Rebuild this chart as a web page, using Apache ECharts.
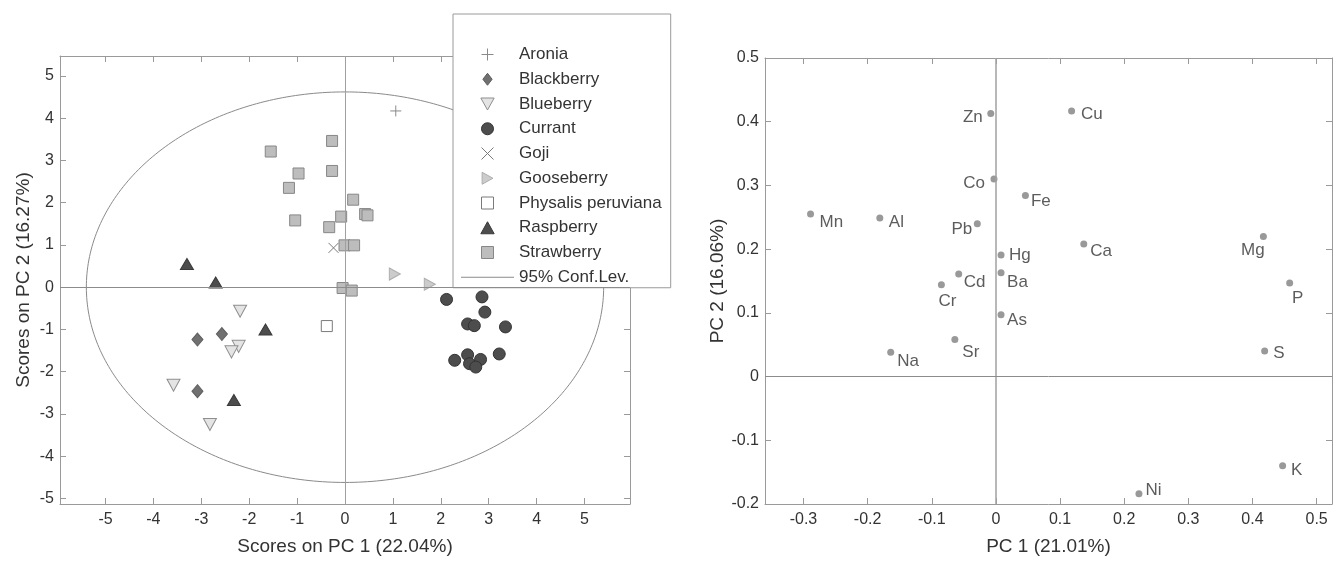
<!DOCTYPE html>
<html><head><meta charset="utf-8">
<script src="https://cdn.jsdelivr.net/npm/echarts@6/dist/echarts.min.js"></script>
<style>html,body{margin:0;padding:0;background:#fff}#c{width:1333px;height:561px}</style>
</head><body><div id="c"></div>
<script>
// ---------------- data: scores plot ----------------
const scoreXTicks = [-5, -4, -3, -2, -1, 0, 1, 2, 3, 4, 5];
const scoreYTicks = [-5, -4, -3, -2, -1, 0, 1, 2, 3, 4, 5];
const aronia = [[1.06, 4.17]];
const blackberry = [[-3.08, -1.24], [-2.57, -1.11], [-3.08, -2.46]];
const blueberry = [[-2.19, -0.57], [-2.22, -1.40], [-2.37, -1.53], [-3.58, -2.32], [-2.82, -3.25]];
const currant = [[2.12, -0.29], [2.86, -0.23], [2.92, -0.59], [2.56, -0.87], [2.70, -0.91], [3.35, -0.94],
                 [3.22, -1.58], [2.56, -1.60], [2.29, -1.73], [2.83, -1.71], [2.60, -1.81], [2.73, -1.89]];
const goji = [[-0.24, 0.93]];
const gooseberry = [[1.04, 0.31], [1.77, 0.07]];
const physalis = [[-0.38, -0.92]];
const raspberry = [[-3.30, 0.55], [-2.70, 0.11], [-1.66, -1.00], [-2.32, -2.67]];
const strawberry = [[-0.27, 3.46], [-1.55, 3.21], [-0.97, 2.69], [-0.27, 2.75], [-1.17, 2.35], [0.17, 2.07],
                    [-1.04, 1.58], [-0.08, 1.67], [-0.33, 1.42], [0.42, 1.73], [0.47, 1.70], [-0.01, 0.99],
                    [0.19, 0.99], [-0.05, -0.02], [0.14, -0.08]];
const confCenter = [0, 0];
const confRadii = [5.40, 4.62];

// ---------------- data: loadings plot ----------------
const loadXTicks = [-0.3, -0.2, -0.1, 0, 0.1, 0.2, 0.3, 0.4, 0.5];
const loadYTicks = [-0.2, -0.1, 0, 0.1, 0.2, 0.3, 0.4, 0.5];
const loadNames = ['Zn', 'Cu', 'Co', 'Fe', 'Mn', 'Al', 'Pb', 'Hg', 'Ca', 'Mg', 'Ba', 'Cd', 'Cr', 'P', 'As', 'Na', 'Sr', 'S', 'K', 'Ni'];
const loadPC1 = [-0.008, 0.118, -0.003, 0.046, -0.289, -0.181, -0.029, 0.008, 0.137, 0.417, 0.008, -0.058, -0.085, 0.458, 0.008, -0.164, -0.064, 0.419, 0.447, 0.223];
const loadPC2 = [0.413, 0.417, 0.310, 0.284, 0.255, 0.249, 0.240, 0.191, 0.208, 0.220, 0.163, 0.161, 0.144, 0.147, 0.097, 0.038, 0.058, 0.040, -0.140, -0.184];

// ---------------- styling ----------------
const FONT = 'Liberation Sans, Arial, Helvetica, sans-serif';
const AX = '#9a9a9a';
const TXT = '#333333';
// label placement: [position, distance, dx, dy]
const labelPlace = {
  Zn: ['left', 4.5, 0, 4], Co: ['left', 5.5, 0, 4], Mn: ['right', 5.5, 0, 8], Al: ['right', 5.5, 0, 4],
  Pb: ['left', 1.5, 0, 6], Cd: ['right', 1.5, 0, 8], Cr: ['bottom', 4, 6, 0], Cu: ['right', 6, 0, 3],
  Fe: ['right', 2, 0, 6], Ca: ['right', 3, 0, 7], Mg: ['bottom', 2, -10.5, 0], Hg: ['right', 4.5, 0, 0],
  Ba: ['right', 2.5, 0, 10], P: ['bottom', 3, 8, 0], As: ['right', 2.5, 0, 6], S: ['right', 5, 0, 2],
  K: ['right', 5, 0, 5], Ni: ['right', 3, 0, -3], Na: ['right', 3, 0, 9], Sr: ['right', 4, 0, 13]
};

const SYM = {
  square: 'path://M0,0L10,0L10,10L0,10Z',
  diamond: 'path://M5,0L10,6.5L5,13L0,6.5Z',
  triUp: 'path://M5,0L10,9L0,9Z',
  triDown: 'path://M0,0L10,0L5,9Z',
  triRight: 'path://M0,0L9,5L0,10Z',
  plus: 'path://M5,0L5,10M0,5L10,5',
  cross: 'path://M0,0L10,10M10,0L0,10',
  hline: 'path://M0,0L50,0L50,1L0,1Z'
};

function xAxes(grid, min, max, ticks, name) {
  return [
    { type: 'value', gridIndex: grid, position: 'bottom', min: min, max: max,
      axisLine: { show: true, onZero: false, lineStyle: { color: AX, width: 1 } },
      axisTick: { show: true, inside: true, length: 6, customValues: ticks, lineStyle: { color: AX } },
      axisLabel: { show: true, customValues: ticks, margin: 8, fontSize: 16, color: TXT, fontFamily: FONT },
      splitLine: { show: false },
      name: name, nameLocation: 'middle', nameGap: 33,
      nameTextStyle: { fontSize: 19, color: TXT, fontFamily: FONT } },
    { type: 'value', gridIndex: grid, position: 'top', min: min, max: max,
      axisLine: { show: true, onZero: false, lineStyle: { color: AX, width: 1 } },
      axisTick: { show: true, inside: true, length: 6, customValues: ticks, lineStyle: { color: AX } },
      axisLabel: { show: false }, splitLine: { show: false } }
  ];
}
function yAxes(grid, min, max, ticks, name, gap) {
  return [
    { type: 'value', gridIndex: grid, position: 'left', min: min, max: max,
      axisLine: { show: true, onZero: false, lineStyle: { color: AX, width: 1 } },
      axisTick: { show: true, inside: true, length: 6, customValues: ticks, lineStyle: { color: AX } },
      axisLabel: { show: true, customValues: ticks, margin: 6, fontSize: 16, color: TXT, fontFamily: FONT },
      splitLine: { show: false },
      name: name, nameLocation: 'middle', nameGap: gap,
      nameTextStyle: { fontSize: 19, color: TXT, fontFamily: FONT } },
    { type: 'value', gridIndex: grid, position: 'right', min: min, max: max,
      axisLine: { show: true, onZero: false, lineStyle: { color: AX, width: 1 } },
      axisTick: { show: true, inside: true, length: 6, customValues: ticks, lineStyle: { color: AX } },
      axisLabel: { show: false }, splitLine: { show: false } }
  ];
}

function scoreSeries(name, data, symbol, size, fill, border, bw) {
  return { type: 'scatter', name: name, xAxisIndex: 0, yAxisIndex: 0, data: data,
    symbol: symbol, symbolSize: size, z: 3,
    itemStyle: { color: fill, borderColor: border, borderWidth: bw, opacity: 1 } };
}

// ellipse outline from its centre and semi-axes
const ellipse = [];
for (let i = 0; i <= 360; i++) {
  const t = i * Math.PI / 180;
  ellipse.push([confCenter[0] + confRadii[0] * Math.cos(t), confCenter[1] + confRadii[1] * Math.sin(t)]);
}

const loadData = loadNames.map(function (n, i) {
  const p = labelPlace[n];
  return { name: n, value: [loadPC1[i], loadPC2[i]],
    label: { show: true, position: p[0], distance: p[1], offset: [p[2], p[3]] } };
});

const zeroLines = function (w1, w2) {
  return { silent: true, symbol: ['none', 'none'], animation: false, label: { show: false },
    data: [{ xAxis: 0, lineStyle: { color: '#a0a0a0', width: w1, type: 'solid' } },
           { yAxis: 0, lineStyle: { color: '#8c8c8c', width: w2, type: 'solid' } }] };
};

const legendNames = ['Aronia', 'Blackberry', 'Blueberry', 'Currant', 'Goji', 'Gooseberry',
                     'Physalis peruviana', 'Raspberry', 'Strawberry'];

const chart = echarts.init(document.getElementById('c'), null, { renderer: 'canvas' });
chart.setOption({
  animation: false,
  backgroundColor: '#ffffff',
  textStyle: { fontFamily: FONT },
  grid: [
    { left: 60, top: 56, width: 570, height: 451, containLabel: false },
    { left: 765, top: 58, width: 567, height: 449, containLabel: false }
  ],
  xAxis: xAxes(0, -5.95, 5.95, scoreXTicks, 'Scores on PC 1 (22.04%)')
    .concat(xAxes(1, -0.36, 0.524, loadXTicks, 'PC 1 (21.01%)')),
  yAxis: yAxes(0, -5.13, 5.47, scoreYTicks, 'Scores on PC 2 (16.27%)', 27)
    .concat(yAxes(1, -0.2, 0.5, loadYTicks, 'PC 2 (16.06%)', 37)),
  legend: {
    orient: 'vertical', left: 453, top: 14,
    itemWidth: 53, itemHeight: 12, itemGap: 7.75,
    padding: [32, 9, 2, 8],
    backgroundColor: '#ffffff', borderColor: '#9a9a9a', borderWidth: 1, borderRadius: 0,
    textStyle: { fontSize: 17, color: TXT, fontFamily: FONT },
    itemStyle: { borderWidth: 1 },
    selectedMode: false,
    data: legendNames.map(function (n) { return { name: n }; }).concat([
      { name: '95% Conf.Lev.', icon: SYM.hline, itemStyle: { color: '#8a8a8a', borderWidth: 0 } }
    ])
  },
  series: [
    { type: 'line', name: '95% Conf.Lev.', xAxisIndex: 0, yAxisIndex: 0, data: ellipse,
      showSymbol: false, symbol: 'none', smooth: false, z: 1, silent: true,
      lineStyle: { color: '#8a8a8a', width: 1 }, itemStyle: { color: '#8a8a8a' },
      markLine: zeroLines(1, 1) },
    scoreSeries('Aronia', aronia, SYM.plus, 11, 'rgba(0,0,0,0)', '#8a8a8a', 1),
    scoreSeries('Blackberry', blackberry, SYM.diamond, [11, 13], '#707070', '#5e5e5e', 1),
    scoreSeries('Blueberry', blueberry, SYM.triDown, [13, 12], '#e4e4e4', '#8e8e8e', 1),
    scoreSeries('Currant', currant, 'circle', 12, '#4d4d4d', '#333333', 1),
    scoreSeries('Goji', goji, SYM.cross, 10, 'rgba(0,0,0,0)', '#7a7a7a', 1),
    scoreSeries('Gooseberry', gooseberry, SYM.triRight, [11, 12], '#cccccc', '#adadad', 1),
    scoreSeries('Physalis peruviana', physalis, SYM.square, 11, '#ffffff', '#7a7a7a', 1),
    scoreSeries('Raspberry', raspberry, SYM.triUp, [13, 11], '#4d4d4d', '#3a3a3a', 1),
    scoreSeries('Strawberry', strawberry, SYM.square, 11, '#bdbdbd', '#878787', 1),
    { type: 'scatter', name: 'loadings', xAxisIndex: 2, yAxisIndex: 2, data: loadData,
      symbol: 'circle', symbolSize: 7, z: 3,
      itemStyle: { color: '#7f7f7f' },
      label: { show: true, formatter: '{b}', fontSize: 17, color: TXT, fontFamily: FONT },
      markLine: zeroLines(1.5, 1) }
  ]
});
</script>
</body></html>
